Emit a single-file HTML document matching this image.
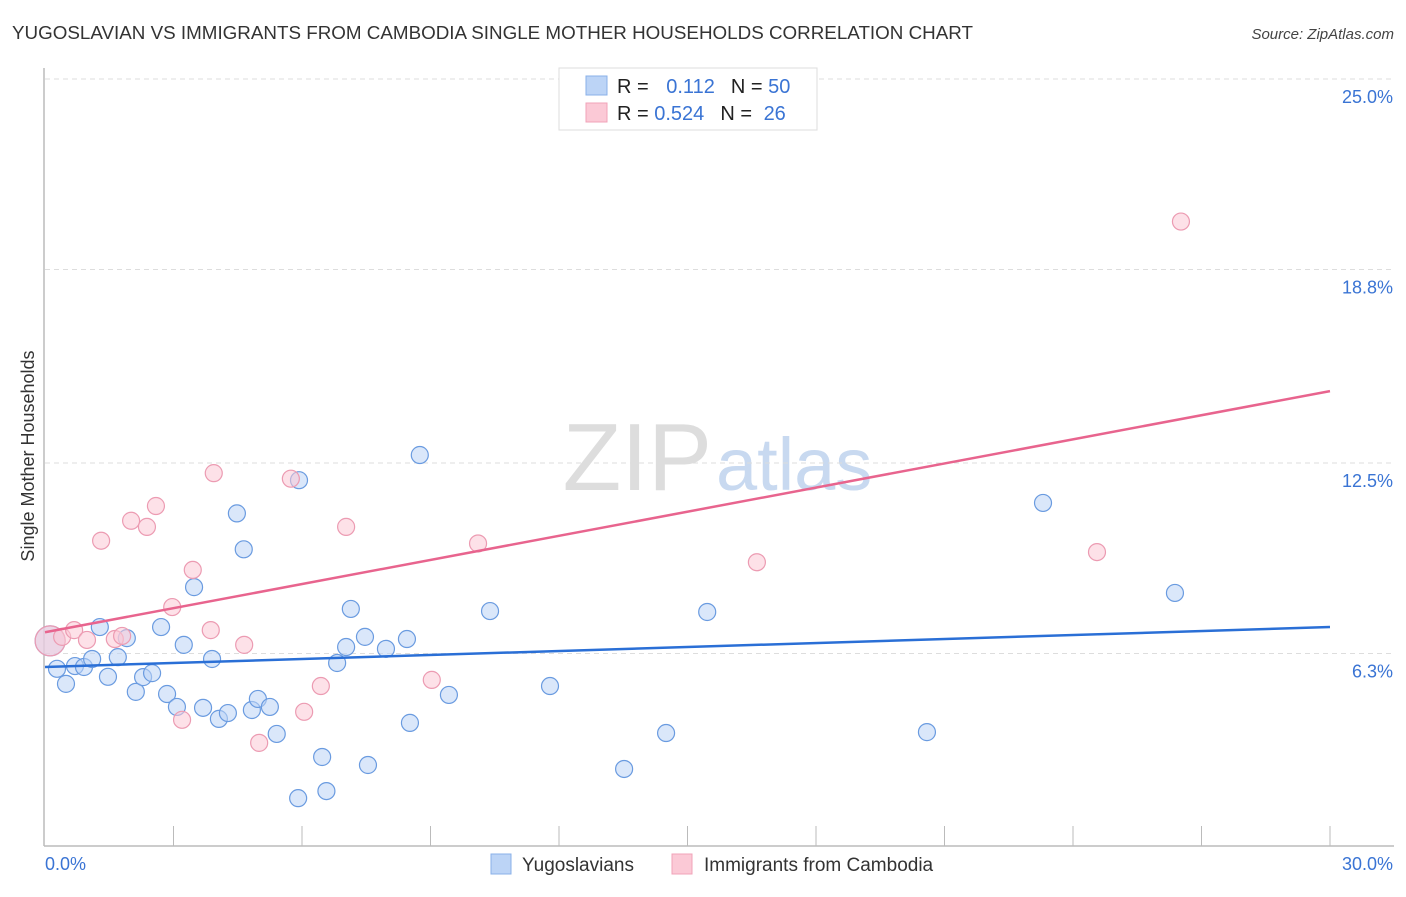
<!DOCTYPE html>
<html><head><meta charset="utf-8">
<style>
body{margin:0;background:#fff;font-family:"Liberation Sans",sans-serif;}
svg text{font-family:"Liberation Sans",sans-serif;}
</style></head>
<body>
<svg id="chart" width="1406" height="892" xmlns="http://www.w3.org/2000/svg">
<text x="12" y="39" font-size="18" fill="#333" textLength="961" lengthAdjust="spacingAndGlyphs">YUGOSLAVIAN VS IMMIGRANTS FROM CAMBODIA SINGLE MOTHER HOUSEHOLDS CORRELATION CHART</text>
<text x="1394" y="39" font-size="15" fill="#444" font-style="italic" text-anchor="end">Source: ZipAtlas.com</text>
<text x="712" y="490" font-size="96" fill="#ddd" text-anchor="end" font-family="Liberation Serif">ZIP</text>
<text x="716" y="490" font-size="74" fill="#c8d9f0">atlas</text>
<g id="grid"></g>
<g id="axes"></g>
<g id="lines"></g>
<g id="pts"></g>
<text transform="translate(34,456) rotate(-90)" font-size="18" fill="#333" text-anchor="middle">Single Mother Households</text>
<g>
<rect x="559" y="68" width="258" height="62" fill="#fff" stroke="#ddd"/>
<rect x="586" y="76" width="21" height="19" fill="#bcd4f6" stroke="#8ab0e8"/>
<rect x="586" y="103" width="21" height="19" fill="#fbc9d6" stroke="#f0a3b8"/>
<text x="617" y="93" font-size="20" fill="#222">R = <tspan fill="#3a74d4" dx="12">0.112</tspan><tspan fill="#222" dx="16">N = </tspan><tspan fill="#3a74d4">50</tspan></text>
<text x="617" y="120" font-size="20" fill="#222">R = <tspan fill="#3a74d4">0.524</tspan><tspan fill="#222" dx="16">N = </tspan><tspan fill="#3a74d4" dx="6">26</tspan></text>
</g>
<g>
<rect x="491" y="854" width="20" height="20" fill="#bcd4f6" stroke="#8ab0e8"/>
<text x="522" y="871" font-size="19" fill="#333">Yugoslavians</text>
<rect x="672" y="854" width="20" height="20" fill="#fbc9d6" stroke="#f0a3b8"/>
<text x="704" y="871" font-size="19" fill="#333">Immigrants from Cambodia</text>
</g>
</svg>
<script>
const yTicks=[6.3,12.5,18.8,25.0];
const yTickLabels=["6.3%","12.5%","18.8%","25.0%"];
const xTickLabels=["0.0%","30.0%"];
const blueX=[0.28,0.49,0.70,0.91,1.10,1.28,1.47,1.70,1.91,2.12,2.29,2.50,2.71,2.85,3.08,3.24,3.48,3.69,3.90,4.06,4.27,4.48,4.64,4.83,4.97,5.25,5.41,5.93,5.91,6.47,6.57,6.82,7.03,7.14,7.47,7.54,7.96,8.45,8.52,8.75,9.43,10.39,11.79,13.52,14.50,15.46,20.59,23.30,26.38,0.12];
const blueY=[5.80,5.31,5.89,5.86,6.12,7.16,5.54,6.18,6.80,5.05,5.53,5.66,7.16,4.98,4.56,6.58,8.46,4.53,6.12,4.17,4.36,10.86,9.69,4.46,4.82,4.56,3.68,11.94,1.59,2.93,1.82,5.99,6.51,7.75,6.84,2.67,6.45,6.77,4.04,12.76,4.95,7.68,5.24,2.54,3.71,7.65,3.74,11.20,8.27,6.71];
const pinkX=[0.12,0.40,0.68,0.98,1.31,1.63,1.80,2.01,2.38,2.59,2.97,3.20,3.45,3.87,3.94,4.65,5.00,5.74,6.05,6.44,7.03,9.03,10.11,16.62,24.56,26.52];
const pinkY=[6.71,6.84,7.06,6.74,9.97,6.77,6.87,10.62,10.42,11.10,7.81,4.14,9.02,7.06,12.17,6.58,3.39,11.99,4.40,5.24,10.42,5.44,9.88,9.27,9.60,20.36];
const trendBlue=[5.86,7.16];
const trendPink=[6.99,14.84];
const X=v=>45+v/30*1285, Y=v=>847-v*30.72;
const NS="http://www.w3.org/2000/svg";
function mk(p,t,a){const e=document.createElementNS(NS,t);for(const k in a)e.setAttribute(k,a[k]);document.getElementById(p).appendChild(e);return e;}
yTicks.forEach((t,i)=>{
 const l=mk('grid','line',{x1:45,x2:1394,y1:Y(t),y2:Y(t),stroke:'#ddd','stroke-dasharray':'5,4'});
 
 
 const tx=mk('axes','text',{x:1393,y:Y(t)+24,'font-size':18,fill:'#3a74d4','text-anchor':'end'});
 tx.textContent=yTickLabels[i];
 
 
});
let ax=mk('axes','line',{x1:44,x2:44,y1:68,y2:846,stroke:'#bbb','stroke-width':1.5});


ax=mk('axes','line',{x1:44,x2:1394,y1:846,y2:846,stroke:'#bbb','stroke-width':1.5});


for(let i=1;i<=10;i++){const t=mk('axes','line',{x1:X(i*3),x2:X(i*3),y1:826,y2:846,stroke:'#bbb'});
 
 }
[[0,45,'start'],[30,1393,'end']].forEach((d,i)=>{const t=mk('axes','text',{x:d[1],y:870,'font-size':18,fill:'#3a74d4','text-anchor':d[2]});t.textContent=xTickLabels[i];
 
 });
function pts(xs,ys,f,s,name){xs.forEach((x,i)=>{const c=mk('pts','circle',{cx:X(x),cy:Y(ys[i]),r:(i==xs.length-1&&name=='blue-point')||(i==0&&name=='pink-point')?15:8.5,fill:f,'fill-opacity':0.55,stroke:s,'stroke-width':1.2});
 
 });}
pts(blueX,blueY,'#bcd4f6','#6a9be0','blue-point');
pts(pinkX,pinkY,'#fbc9d6','#ec9bb2','pink-point');
let tl=mk('lines','line',{x1:X(0),y1:Y(trendBlue[0]),x2:X(30),y2:Y(trendBlue[1]),stroke:'#2a6fd6','stroke-width':2.5});


tl=mk('lines','line',{x1:X(0),y1:Y(trendPink[0]),x2:X(30),y2:Y(trendPink[1]),stroke:'#e8648e','stroke-width':2.5});


document.getElementById('chart').appendChild(document.getElementById('lines'));
</script>
</body></html>
